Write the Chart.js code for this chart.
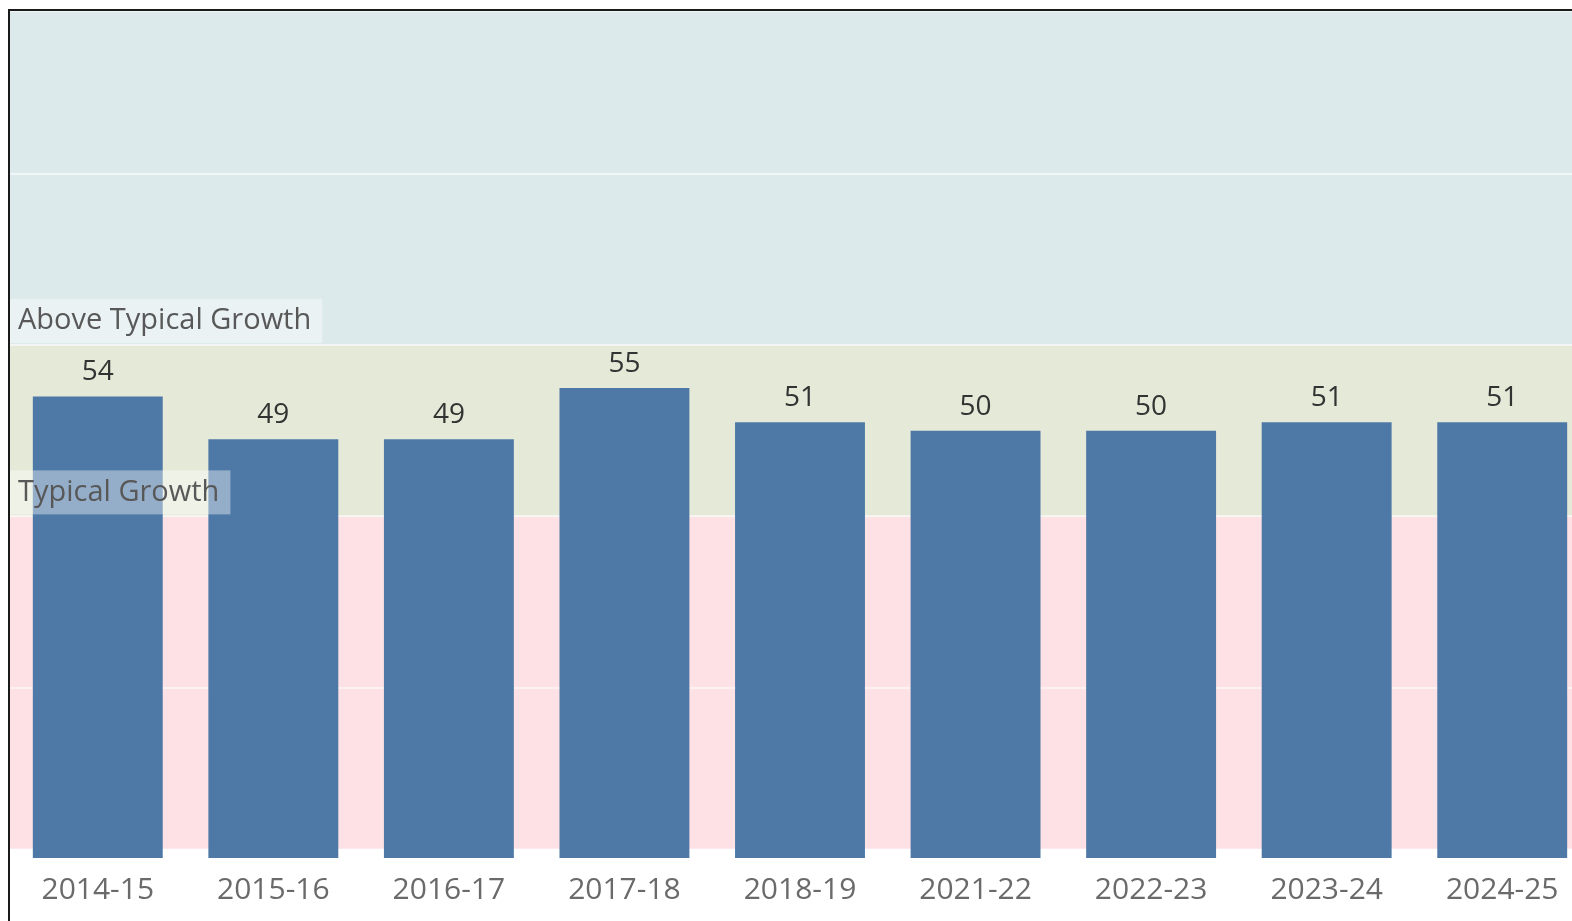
<!DOCTYPE html>
<html>
<head>
<meta charset="utf-8">
<script src="https://cdn.jsdelivr.net/npm/chart.js@4.4.0/dist/chart.umd.min.js"></script>
<style>
html, body { margin: 0; padding: 0; background: #fff; overflow: hidden; }
#frame { position: absolute; left: 8px; top: 9px; border-left: 2px solid #1a1a1a; border-top: 2px solid #1a1a1a; }
#growth { display: block; }
</style>
</head>
<body>
<div id="frame"><canvas id="growth" width="1580" height="910"></canvas></div>
<script>
var years = ["2014-15", "2015-16", "2016-17", "2017-18", "2018-19", "2021-22", "2022-23", "2023-24", "2024-25"];
var growth = [54, 49, 49, 55, 51, 50, 50, 51, 51];

// shaded growth bands, bottom to top
var bandNames = ["", "Typical Growth", "Above Typical Growth"];
var bandFrom = [1.2, 40, 60];
var bandTo = [40, 60, 99];
var bandColors = ["#fde1e4", "#e5e9d8", "#dceaeb"];

var FONT = '"Open Sans", "Noto Sans", sans-serif';

var bandPlugin = {
    id: 'bands',
    beforeDraw: function(chart) {
        var ctx = chart.ctx, a = chart.chartArea, y = chart.scales.y;
        ctx.save();
        for (var i = 0; i < bandFrom.length; i++) {
            var top = y.getPixelForValue(bandTo[i]);
            var bot = y.getPixelForValue(bandFrom[i]);
            ctx.fillStyle = bandColors[i];
            ctx.fillRect(a.left, top, a.right - a.left, bot - top);
        }
        ctx.restore();
    },
    afterDatasetsDraw: function(chart) {
        var ctx = chart.ctx, a = chart.chartArea, y = chart.scales.y;
        ctx.save();

        // value above each bar
        ctx.font = '28px ' + FONT;
        ctx.fillStyle = '#333';
        ctx.textAlign = 'center';
        ctx.textBaseline = 'bottom';
        chart.getDatasetMeta(0).data.forEach(function(bar, i) {
            ctx.fillText(growth[i], bar.x, bar.y - 10);
        });

        // band names sit on the lower edge of their band
        ctx.font = '29px ' + FONT;
        ctx.textAlign = 'left';
        ctx.textBaseline = 'middle';
        for (var i = 0; i < bandNames.length; i++) {
            if (!bandNames[i]) continue;
            var bot = y.getPixelForValue(bandFrom[i]) - 2;
            var w = ctx.measureText(bandNames[i]).width + 19;
            ctx.fillStyle = 'rgba(255,255,255,0.4)';
            ctx.fillRect(a.left, bot - 44, w, 44);
            ctx.fillStyle = '#585858';
            ctx.fillText(bandNames[i], a.left + 8, bot - 22);
        }
        ctx.restore();
    }
};

var ctx = document.getElementById('growth').getContext('2d');
var growthChart = new Chart(ctx, {
    type: 'bar',
    data: {
        labels: years,
        datasets: [{
            data: growth,
            backgroundColor: '#4e79a7',
            borderWidth: 0,
            categoryPercentage: 1,
            barPercentage: 0.74
        }]
    },
    options: {
        responsive: false,
        animation: false,
        layout: { padding: { left: 0, right: 0, top: 0, bottom: 0 } },
        plugins: { legend: { display: false }, tooltip: { enabled: false } },
        scales: {
            x: {
                grid: { display: false, drawTicks: false },
                border: { display: false },
                ticks: { color: '#6a6a6a', padding: 13, font: { size: 30, family: FONT } }
            },
            y: {
                min: 0,
                max: 99,
                border: { display: false },
                grid: { color: 'rgba(255,255,255,0.55)', lineWidth: 2, drawTicks: false },
                ticks: { display: false, stepSize: 20 }
            }
        }
    },
    plugins: [bandPlugin]
});
</script>
</body>
</html>
